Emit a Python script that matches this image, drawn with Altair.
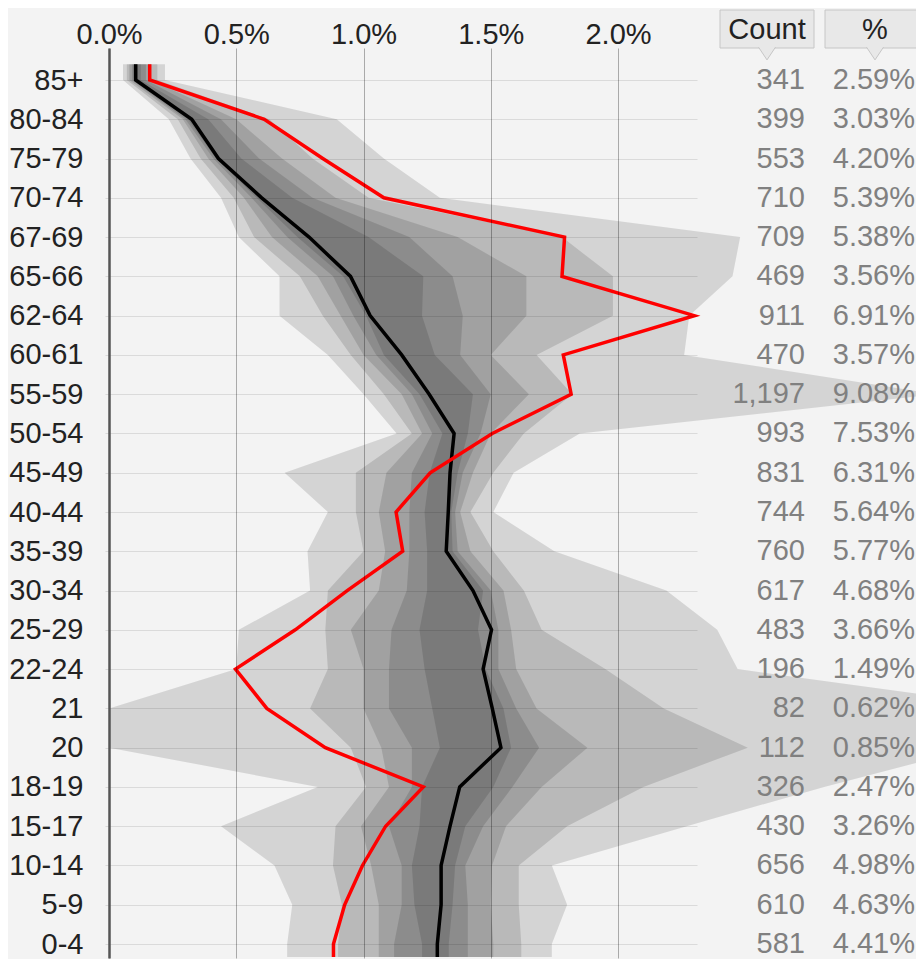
import json
import pandas as pd
import altair as alt

ages = ["85+", "80-84", "75-79", "70-74", "67-69", "65-66", "62-64", "60-61",
        "55-59", "50-54", "45-49", "40-44", "35-39", "30-34", "25-29", "22-24",
        "21", "20", "18-19", "15-17", "10-14", "5-9", "0-4"]
counts = [341, 399, 553, 710, 709, 469, 911, 470, 1197, 993, 831, 744, 760,
          617, 483, 196, 82, 112, 326, 430, 656, 610, 581]
shares = [2.59, 3.03, 4.20, 5.39, 5.38, 3.56, 6.91, 3.57, 9.08, 7.53, 6.31,
          5.64, 5.77, 4.68, 3.66, 1.49, 0.62, 0.85, 2.47, 3.26, 4.98, 4.63, 4.41]
# red line: share per single year of age (% of total)
red_line = [0.16, 0.61, 0.84, 1.08, 1.79, 1.78, 2.30, 1.785, 1.816, 1.506,
            1.262, 1.128, 1.154, 0.936, 0.732, 0.497, 0.62, 0.85, 1.235,
            1.087, 0.996, 0.926, 0.882]
# black line: median
median_line = [0.105, 0.325, 0.43, 0.60, 0.786, 0.949, 1.026, 1.15, 1.258,
               1.356, 1.34, 1.333, 1.325, 1.43, 1.503, 1.47, 1.506, 1.54,
               1.378, 1.34, 1.305, 1.305, 1.29]
# nested percentile bands, outer (1) to inner (5)
b1_lo = [0.055, 0.235, 0.32, 0.44, 0.51, 0.67, 0.67, 0.86, 1.0, 1.13, 0.69,
         0.86, 0.78, 0.79, 0.51, 0.50, 0.0, 0.0, 0.82, 0.44, 0.65, 0.72, 0.70]
b1_hi = [0.22, 0.895, 1.08, 1.30, 2.48, 2.45, 2.28, 2.26, 3.25, 1.85, 1.59,
         1.51, 1.75, 2.19, 2.39, 2.47, 3.6, 3.4, 2.81, 2.27, 1.74, 1.80, 1.74]
b2_lo = [0.07, 0.27, 0.36, 0.49, 0.57, 0.75, 0.84, 0.95, 1.08, 1.19, 0.97,
         0.97, 1.0, 0.86, 0.85, 0.86, 0.79, 0.95, 1.01, 0.89, 0.88, 0.915, 0.90]
b2_hi = [0.19, 0.63, 0.80, 1.02, 1.78, 1.98, 1.98, 1.68, 1.82, 1.63, 1.51,
         1.42, 1.51, 1.63, 1.70, 1.95, 2.18, 2.51, 2.1, 1.80, 1.61, 1.61, 1.62]
b3_lo = [0.08, 0.29, 0.39, 0.53, 0.64, 0.82, 0.91, 1.0, 1.15, 1.23, 1.09,
         1.06, 1.085, 1.06, 0.95, 1.0, 1.0, 1.07, 1.10, 0.99, 1.03, 1.06, 1.06]
b3_hi = [0.165, 0.50, 0.68, 0.89, 1.37, 1.64, 1.64, 1.50, 1.65, 1.50, 1.43,
         1.38, 1.42, 1.55, 1.58, 1.60, 1.68, 1.88, 1.70, 1.56, 1.505, 1.50, 1.51]
b4_lo = [0.09, 0.30, 0.41, 0.56, 0.70, 0.88, 0.96, 1.05, 1.19, 1.27, 1.19,
         1.18, 1.18, 1.17, 1.11, 1.10, 1.10, 1.19, 1.19, 1.10, 1.15, 1.15, 1.12]
b4_hi = [0.145, 0.44, 0.59, 0.80, 1.18, 1.35, 1.39, 1.38, 1.50, 1.46, 1.39,
         1.36, 1.37, 1.50, 1.53, 1.53, 1.60, 1.69, 1.585, 1.47, 1.40, 1.41, 1.41]
b5_lo = [0.095, 0.31, 0.42, 0.58, 0.74, 0.92, 1.01, 1.08, 1.22, 1.31, 1.26,
         1.24, 1.25, 1.25, 1.22, 1.24, 1.27, 1.30, 1.23, 1.22, 1.19, 1.20, 1.23]
b5_hi = [0.125, 0.39, 0.52, 0.72, 1.02, 1.235, 1.23, 1.28, 1.43, 1.41, 1.37,
         1.345, 1.35, 1.47, 1.45, 1.48, 1.55, 1.58, 1.51, 1.40, 1.36, 1.35, 1.335]

n = len(ages)
idx = list(range(n))
# half-step extension above the first and below the last row
ext_y = [-0.4] + idx + [n - 1 + 0.33]


def ext(vals):
    return [vals[0]] + list(vals) + [vals[-1]]


band_rows = []
for name, lo, hi in [("b1", b1_lo, b1_hi), ("b2", b2_lo, b2_hi),
                     ("b3", b3_lo, b3_hi), ("b4", b4_lo, b4_hi),
                     ("b5", b5_lo, b5_hi)]:
    for yv, l, h in zip(ext_y, ext(lo), ext(hi)):
        band_rows.append({"band": name, "y": yv, "lo": l, "hi": h})
bands_df = pd.DataFrame(band_rows)

lines_df = pd.DataFrame({
    "y": ext_y,
    "median": ext(median_line),
    "red": ext(red_line),
})

table_df = pd.DataFrame({"y": idx, "count": counts, "share": shares})

FONT = "Liberation Sans, Arial, sans-serif"
FS = 29

yscale = alt.Scale(domain=[-0.815, 22.356], reverse=True, nice=False, zero=False)
xscale = alt.Scale(domain=[0, 2.3104], nice=False, zero=True)

label_array = json.dumps(ages).replace('"', "'")
yaxis = alt.Axis(orient="left", values=idx, labelExpr=f"{label_array}[datum.value]",
                 title=None, grid=True, gridColor="#000", gridOpacity=0.1,
                 gridWidth=1, tickColor="#000", tickOpacity=0.1, tickSize=4,
                 domainColor="#555", domainWidth=2.5, labelFont=FONT,
                 labelFontSize=FS, labelColor="#222", labelPadding=22,
                 labelOverlap=False, labelFlush=False, zindex=1)
xaxis = alt.Axis(orient="top", values=[0, 0.5, 1.0, 1.5, 2.0],
                 labelExpr="format(datum.value, '.1f') + '%'", title=None,
                 grid=True, gridColor="#000", gridOpacity=0.3, gridWidth=1,
                 ticks=False, domain=False, labelFont=FONT, labelFontSize=FS,
                 labelColor="#222", labelPadding=5, labelBaseline="alphabetic",
                 labelOverlap=False, labelFlush=False, zindex=1)

Y = alt.Y("y:Q", scale=yscale, axis=yaxis)

bands = alt.Chart(bands_df).mark_area(
    orient="horizontal", color="#000", fillOpacity=0.125
).encode(
    y=Y,
    x=alt.X("lo:Q", scale=xscale, axis=xaxis, stack=None),
    x2="hi:Q",
    detail="band:N",
)

median = alt.Chart(lines_df).mark_line(color="#000", strokeWidth=3.5).encode(
    y=Y,
    x=alt.X("median:Q", scale=xscale, axis=xaxis),
    order="y:Q",
)

red = alt.Chart(lines_df).mark_line(color="#ff0000", strokeWidth=3.5).encode(
    y=Y,
    x=alt.X("red:Q", scale=xscale, axis=xaxis),
    order="y:Q",
)

count_text = alt.Chart(table_df).mark_text(
    align="right", baseline="middle", font=FONT, fontSize=FS, color="#808080"
).encode(
    y=Y,
    x=alt.value(696),
    text=alt.Text("count:Q", format=","),
)

pct_text = alt.Chart(table_df).transform_calculate(
    label="format(datum.share, '.2f') + '%'"
).mark_text(
    align="right", baseline="middle", font=FONT, fontSize=FS, color="#808080"
).encode(
    y=Y,
    x=alt.value(806),
    text="label:N",
)


def header(title, x1, x2, cx):
    d = pd.DataFrame({"h": [title]})
    box = alt.Chart(d).mark_rect(fill="#e8e8e8", stroke="#c6c6c6", strokeWidth=1).encode(
        x=alt.value(x1), x2=alt.value(x2), y=alt.value(-38), y2=alt.value(0)
    )
    tail = alt.Chart(d).mark_point(
        shape="M-1,-0.75L0,0.75L1,-0.75", filled=False, fill="#e8e8e8",
        fillOpacity=1, stroke="#c6c6c6", strokeWidth=1, size=290, opacity=1
    ).encode(x=alt.value(cx), y=alt.value(5.5))
    txt = alt.Chart(d).mark_text(
        align="center", baseline="alphabetic", font=FONT, fontSize=FS, color="#222"
    ).encode(x=alt.value(cx), y=alt.value(-9), text="h:N")
    return [box, tail, txt]


layers = [bands, median, red, count_text, pct_text]
layers += header("Count", 611, 705, 658)
layers += header("%", 716, 830, 766)

chart = alt.layer(*layers).properties(
    width=588,
    height=910,
    autosize=alt.AutoSizeParams(type="none"),
    padding={"left": 101, "top": 40, "right": 219, "bottom": 1},
    background="#f3f3f3",
).configure_view(strokeOpacity=0)

chart.save("out.html", embed_options={"renderer": "svg", "actions": False})
